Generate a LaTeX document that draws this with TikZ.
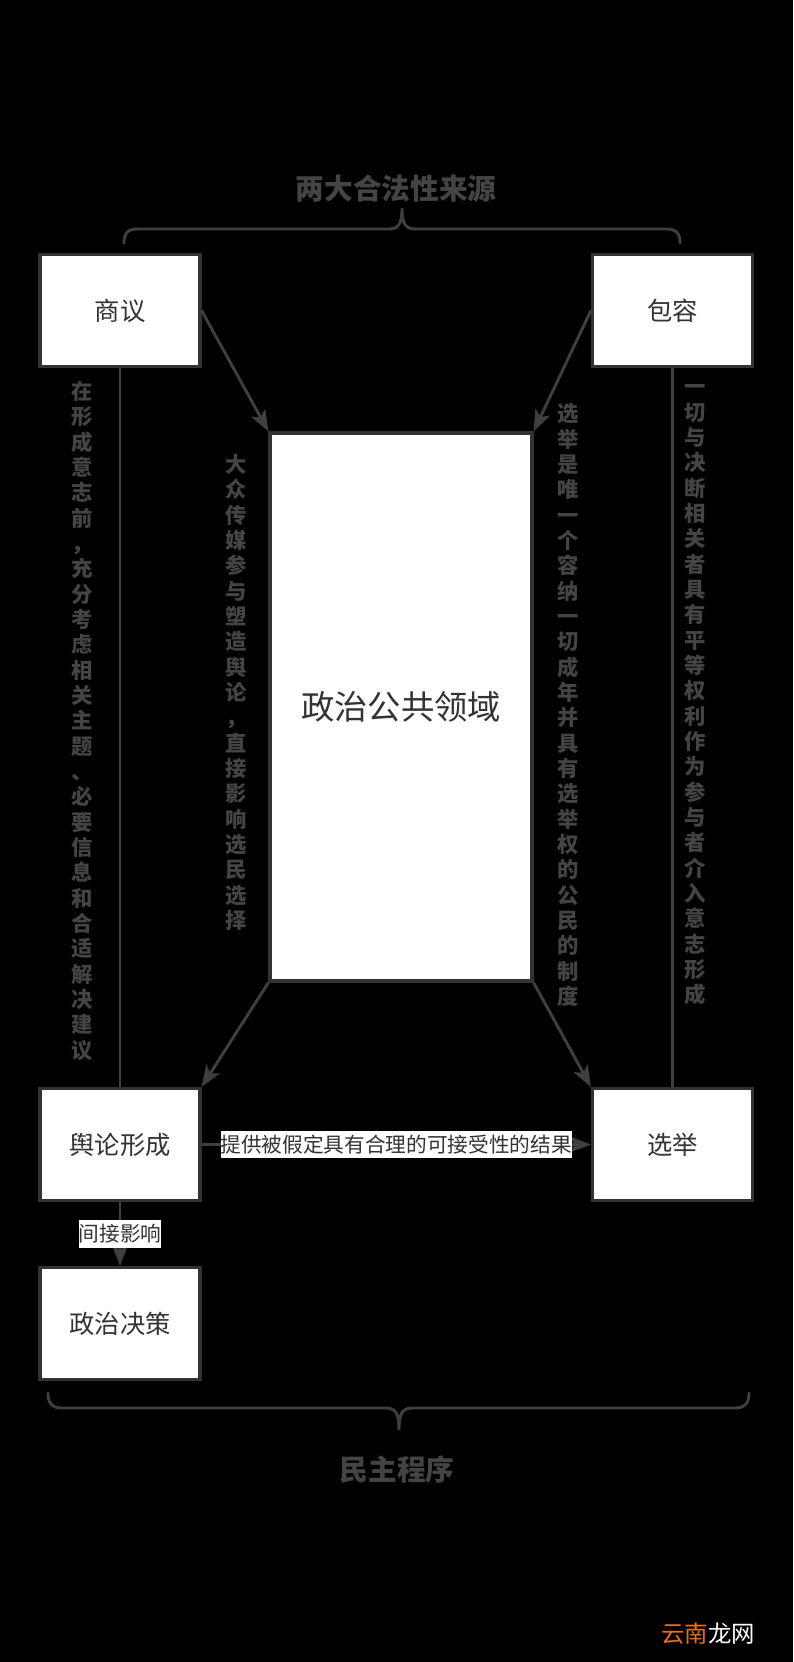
\documentclass[tikz,border=0pt]{standalone}
\usepackage{fontspec}
\setmainfont{Noto Sans CJK SC}
\usetikzlibrary{arrows.meta}
\definecolor{ln}{HTML}{3F3F3F}
\definecolor{bd}{HTML}{333333}
\definecolor{tx}{HTML}{333333}
\definecolor{dim}{HTML}{444444}
\definecolor{wmor}{HTML}{E8701A}
\begin{document}
\begin{tikzpicture}[x=0.75pt,y=-0.75pt,
 box/.style={draw=bd,line width=2.3pt,fill=white,minimum width=120pt,minimum height=84pt,inner sep=0pt,text=tx,font=\fontsize{19}{22}\selectfont},
 conn/.style={draw=ln,line width=2.2pt},
 arr/.style={conn,-{Stealth[length=16pt,width=12pt,inset=4pt]}},
 vlab/.style={text=dim,font=\bfseries\fontsize{16}{19}\selectfont,align=center,inner sep=0pt},
 elab/.style={fill=white,text=tx,font=\fontsize{15.5}{18}\selectfont,inner xsep=0pt,inner ysep=3pt},
 head/.style={text=dim,font=\bfseries\fontsize{21.5}{24}\selectfont},
 brace/.style={draw=ln,line width=2.2pt,line cap=round}]
\fill[black] (0,0) rectangle (793,1662);
\useasboundingbox (0,0) rectangle (793,1662);

\node[box] (sy) at (120,310.5) {商议};
\node[box] (br) at (672.5,310.5) {包容};
\node[box,minimum width=196.5pt,minimum height=411pt,font=\fontsize{25}{28}\selectfont] (pub) at (401,707) {政治公共领域};
\node[box] (yl) at (120,1144.5) {舆论形成};
\node[box] (xj) at (672.5,1144.5) {选举};
\node[box] (zc) at (120,1323.5) {政治决策};

\draw[arr] (sy.east) -- (pub.north west);
\draw[arr] (br.west) -- (pub.north east);
\draw[arr] (pub.south west) -- (yl.north east);
\draw[arr] (pub.south east) -- (xj.north west);
\draw[conn] (sy.south) -- (yl.north);
\draw[conn] (br.south) -- (xj.north);
\draw[arr] (yl.east) -- node[elab] (l1) {提供被假定具有合理的可接受性的结果} (xj.west);
\draw[arr] (yl.south) -- node[elab] (l2) {间接影响} (zc.north);

\node[vlab] (t1) at (82,721) {在\\形\\成\\意\\志\\前\\，\\充\\分\\考\\虑\\相\\关\\主\\题\\、\\必\\要\\信\\息\\和\\合\\适\\解\\决\\建\\议};
\node[vlab] (t2) at (236,692.5) {大\\众\\传\\媒\\参\\与\\塑\\造\\舆\\论\\，\\直\\接\\影\\响\\选\\民\\选\\择};
\node[vlab] (t3) at (568,705) {选\\举\\是\\唯\\一\\个\\容\\纳\\一\\切\\成\\年\\并\\具\\有\\选\\举\\权\\的\\公\\民\\的\\制\\度};
\node[vlab] (t4) at (695,695) {一\\切\\与\\决\\断\\相\\关\\者\\具\\有\\平\\等\\权\\利\\作\\为\\参\\与\\者\\介\\入\\意\\志\\形\\成};

\draw[brace] (124,243) .. controls (124,233) and (128,229) .. (138,229) -- (388,229) .. controls (398,229) and (402,225) .. (402,208) .. controls (402,225) and (406,229) .. (416,229) -- (666,229) .. controls (676,229) and (680,233) .. (680,243);
\draw[brace] (48,1393) .. controls (48,1403) and (52,1408) .. (62,1408) -- (385,1408) .. controls (395,1408) and (399,1412) .. (399,1430) .. controls (399,1412) and (403,1408) .. (413,1408) -- (735,1408) .. controls (745,1408) and (749,1403) .. (749,1393);

\node[head] (h1) at (396,189) {两大合法性来源};
\node[head] (h2) at (397,1470) {民主程序};
\node[font=\fontsize{17.5}{20}\selectfont,inner sep=0pt] (wm) at (708,1634) {\textcolor{wmor}{云南}\textcolor{white}{龙网}};
\end{tikzpicture}
\end{document}
